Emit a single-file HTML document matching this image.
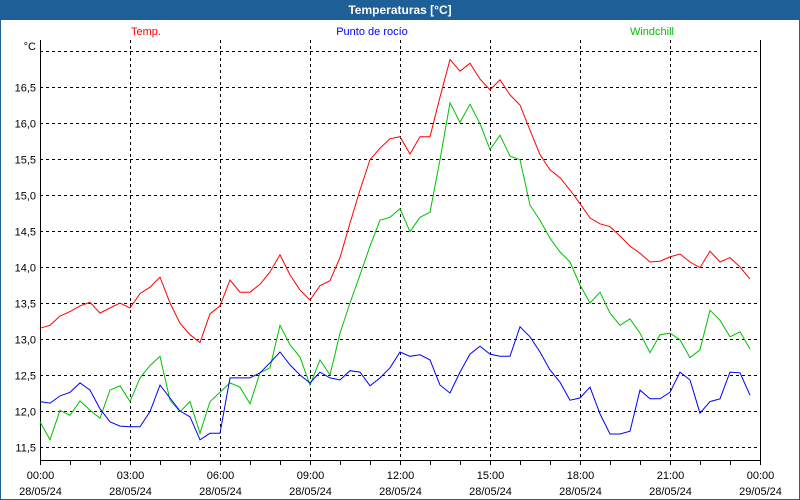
<!DOCTYPE html>
<html><head><meta charset="utf-8"><style>
html,body{margin:0;padding:0;background:#fff;}
svg{display:block;font-family:"Liberation Sans",sans-serif;}
</style></head><body>
<svg id="chart" width="800" height="500" viewBox="0 0 800 500">
<rect x="0" y="0" width="800" height="500" fill="#fff" stroke="#1d5f96" stroke-width="2"/>
<rect x="0" y="0" width="800" height="20" fill="#1d5f96"/>
<text x="400" y="14" text-anchor="middle" fill="#fff" font-size="12" font-weight="bold">Temperaturas [°C]</text>
<text x="146" y="35" text-anchor="middle" fill="#ff0000" font-size="11">Temp.</text>
<text x="372" y="35" text-anchor="middle" fill="#0000ff" font-size="11">Punto de rocío</text>
<text x="652" y="35" text-anchor="middle" fill="#00c000" font-size="11">Windchill</text>
<text x="36" y="50" text-anchor="end" font-size="11">°C</text>
<g id="grid"></g>
<g id="axes"></g>
<g id="series"></g>
</svg>
<script>
const yTicks = [11.5,12.0,12.5,13.0,13.5,14.0,14.5,15.0,15.5,16.0,16.5,17.0];
const xTickTimes = ["00:00","03:00","06:00","09:00","12:00","15:00","18:00","21:00","00:00"];
const xTickDates = ["28/05/24","28/05/24","28/05/24","28/05/24","28/05/24","28/05/24","28/05/24","28/05/24","29/05/24"];
const tempSeries = [13.15,13.19,13.32,13.38,13.46,13.51,13.36,13.43,13.5,13.43,13.63,13.72,13.86,13.5,13.22,13.06,12.95,13.35,13.46,13.82,13.65,13.65,13.76,13.93,14.17,13.89,13.68,13.54,13.74,13.81,14.13,14.61,15.07,15.49,15.65,15.78,15.81,15.57,15.81,15.81,16.36,16.88,16.72,16.83,16.61,16.46,16.6,16.39,16.25,15.9,15.56,15.35,15.24,15.07,14.88,14.68,14.6,14.56,14.43,14.29,14.19,14.07,14.08,14.14,14.18,14.07,13.99,14.22,14.07,14.13,14.0,13.83];
const dewSeries = [12.13,12.11,12.21,12.26,12.39,12.29,12.03,11.85,11.79,11.78,11.78,11.99,12.36,12.18,12.0,11.92,11.6,11.69,11.69,12.46,12.46,12.46,12.53,12.67,12.82,12.64,12.5,12.39,12.54,12.46,12.43,12.56,12.54,12.35,12.46,12.6,12.82,12.76,12.78,12.71,12.36,12.25,12.54,12.79,12.9,12.79,12.76,12.76,13.17,13.03,12.82,12.57,12.4,12.15,12.18,12.33,11.96,11.68,11.68,11.72,12.29,12.17,12.17,12.26,12.54,12.43,11.97,12.13,12.17,12.54,12.53,12.22];
const chillSeries = [11.85,11.6,12.01,11.94,12.14,12.01,11.9,12.29,12.35,12.13,12.46,12.63,12.76,12.15,11.99,12.13,11.69,12.13,12.26,12.39,12.33,12.1,12.53,12.6,13.19,12.92,12.75,12.36,12.71,12.5,13.08,13.5,13.89,14.29,14.65,14.69,14.81,14.49,14.69,14.76,15.49,16.28,16.01,16.26,15.99,15.63,15.83,15.54,15.49,14.86,14.65,14.4,14.21,14.07,13.75,13.5,13.65,13.36,13.19,13.28,13.08,12.81,13.06,13.08,12.99,12.74,12.85,13.4,13.26,13.03,13.1,12.86];
const stepMinutes = 20;

const NS="http://www.w3.org/2000/svg";
const X0=40,X1=760,YB=460,YT=40;
function xScale(min){return X0+min/1440*(X1-X0);}
function yScale(v){return 411-(v-12)*72;}
function mk(tag,attrs,parent){const e=document.createElementNS(NS,tag);for(const k in attrs)e.setAttribute(k,attrs[k]);parent.appendChild(e);return e;}
const grid=document.getElementById('grid'),axes=document.getElementById('axes'),series=document.getElementById('series');

yTicks.forEach(function(v){
  const y=Math.round(yScale(v))+0.5;
  const l=mk('line',{x1:X0,x2:X1,y1:y,y2:y,stroke:'#000','stroke-dasharray':'3,3','stroke-width':1},grid);
  
  
  if(v<17){
    const t=mk('text',{x:36,y:y+4,'text-anchor':'end','font-size':11},axes);
    t.textContent=v.toFixed(1).replace('.',',');
    
    
  }
});
xTickTimes.forEach(function(lbl,i){
  const x=Math.round(xScale(i*180))+0.5;
  if(i>0&&i<xTickTimes.length-1){
    const l=mk('line',{x1:x,x2:x,y1:YT,y2:YB,stroke:'#000','stroke-dasharray':'3,3','stroke-width':1},grid);
    
    
  }
  const t=mk('text',{x:x,y:479,'text-anchor':'middle','font-size':11},axes);
  t.textContent=lbl;
  
  
  const d=mk('text',{x:x,y:495,'text-anchor':'middle','font-size':11},axes);
  d.textContent=xTickDates[i];
  
  
});
for(let h=0;h<=24;h++){
  const x=Math.round(xScale(h*60))+0.5;
  const tk=mk('line',{x1:x,x2:x,y1:YB,y2:YB+5,stroke:'#000'},axes);
  
  
}
const la=mk('line',{x1:40.5,x2:40.5,y1:YT,y2:YB,stroke:'#000'},axes);


const ra=mk('line',{x1:760.5,x2:760.5,y1:YT,y2:YB,stroke:'#000'},axes);


const ba=mk('line',{x1:X0,x2:X1+1,y1:460.5,y2:460.5,stroke:'#000'},axes);



function drawLine(arr,color,name){
  const pts=arr.map(function(v,i){return xScale(i*stepMinutes).toFixed(1)+','+yScale(v).toFixed(1);}).join(' ');
  const p=mk('polyline',{points:pts,fill:'none',stroke:color,'stroke-width':1},series);
  
  
}
drawLine(tempSeries,'#ff0000','temp-line');
drawLine(chillSeries,'#00c000','windchill-line');
drawLine(dewSeries,'#0000ff','dew-point-line');
</script>
</body></html>
